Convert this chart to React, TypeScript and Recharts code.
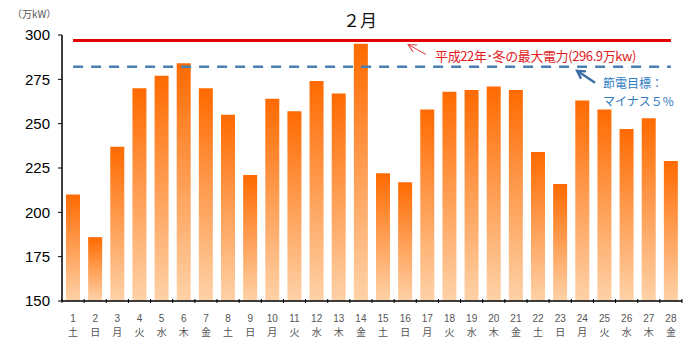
import React from 'react'
import {
  BarChart,
  Bar,
  XAxis,
  YAxis,
  ReferenceLine,
} from 'recharts'

const days = ['1', '2', '3', '4', '5', '6', '7', '8', '9', '10', '11', '12', '13', '14',
  '15', '16', '17', '18', '19', '20', '21', '22', '23', '24', '25', '26', '27', '28']
const weekdays = ['土', '日', '月', '火', '水', '木', '金', '土', '日', '月', '火', '水', '木', '金',
  '土', '日', '月', '火', '水', '木', '金', '土', '日', '月', '火', '水', '木', '金']
const demand = [210, 186, 237, 270, 277, 284, 270, 255, 221, 264, 257, 274, 267, 295,
  222, 217, 258, 268, 269, 271, 269, 234, 216, 263, 258, 247, 253, 229]
const yTicks = [150, 175, 200, 225, 250, 275, 300]
const recordPeak = 296.9
const savingTarget = 282.1

const data = days.map((d, i) => ({ day: d, wd: weekdays[i], value: demand[i] }))

const W = 700
const H = 352
const M = { top: 35, right: 18, left: 0, bottom: 0 }
const Y_W = 62
const STEP = (W - M.left - M.right - Y_W) / days.length
const JP = '"Noto Sans CJK JP", "Noto Sans", sans-serif'
const LATIN = '"Liberation Sans", Arial, sans-serif'

const DayTick = (props: any) => {
  const { x, y, payload, index } = props
  return (
    <g>
      <line x1={x - STEP / 2} x2={x - STEP / 2} y1={y - 2} y2={y + 2} stroke="#000" />
      {index === days.length - 1 && (
        <line x1={x + STEP / 2} x2={x + STEP / 2} y1={y - 2} y2={y + 2} stroke="#000" />
      )}
      <text x={x} y={y + 21} textAnchor="middle" fontSize={10} fill="#555" fontFamily={LATIN}>
        {payload.value}
      </text>
      <text x={x} y={y + 35} textAnchor="middle" fontSize={10} fill="#555" fontFamily={JP}>
        {weekdays[index]}
      </text>
    </g>
  )
}

const RecordLabel = (props: any) => {
  const { x, y } = props.viewBox
  return (
    <g>
      <line x1={x + 353} y1={y + 14} x2={x + 335} y2={y + 4} stroke="#e23a3a" strokeWidth={1} markerEnd="url(#redHead)" />
      <text x={x + 362} y={y + 15} dominantBaseline="central" fontSize={13} fill="#e02020" fontFamily={JP} letterSpacing={-0.4}>
        平成22年･冬の最大電力(296.9万kw)
      </text>
    </g>
  )
}

const TargetLabel = (props: any) => {
  const { x, y } = props.viewBox
  return (
    <g>
      <line x1={x + 522} y1={y + 16} x2={x + 504} y2={y + 4} stroke="#3d6fa8" strokeWidth={2.5} markerEnd="url(#blueHead)" />
      <text x={x + 530} y={y + 16} dominantBaseline="central" fontSize={12} fill="#2f7cc4" fontFamily={JP}>
        節電目標：
      </text>
      <text x={x + 530} y={y + 34} dominantBaseline="central" fontSize={12} fill="#2f7cc4" fontFamily={JP}>
        マイナス５%
      </text>
    </g>
  )
}

const App: React.FC = () => {
  return (
    <div style={{ position: 'absolute', left: 0, top: 0, width: W, height: H, background: '#fff' }}>
      <div style={{ position: 'absolute', left: 310, width: 100, top: 7, textAlign: 'center', fontFamily: JP, fontSize: 17, color: '#111' }}>
        ２月
      </div>
      <div style={{ position: 'absolute', left: 12, top: 6, fontFamily: JP, fontSize: 10, color: '#555' }}>
        （万kW）
      </div>
      <BarChart width={W} height={H} data={data} margin={M} barSize={14}>
        <defs>
          <linearGradient id="barFill" x1="0" y1="0" x2="0" y2="1">
            <stop offset="0%" stopColor="#ff6a00" />
            <stop offset="100%" stopColor="#fed2a8" />
          </linearGradient>
          <marker id="redHead" viewBox="0 0 10 10" refX="9" refY="5" markerWidth="10" markerHeight="10" orient="auto" markerUnits="userSpaceOnUse">
            <path d="M1 1 L9 5 L1 9" fill="none" stroke="#e23a3a" strokeWidth={1} />
          </marker>
          <marker id="blueHead" viewBox="0 0 10 10" refX="8" refY="5" markerWidth="11" markerHeight="11" orient="auto" markerUnits="userSpaceOnUse">
            <path d="M1 1 L8 5 L1 9" fill="none" stroke="#3d6fa8" strokeWidth={2.2} />
          </marker>
        </defs>
        <XAxis
          dataKey="day"
          height={51}
          interval={0}
          tickLine={false}
          tickSize={0}
          tickMargin={0}
          axisLine={{ stroke: '#000', strokeWidth: 1.5 }}
          tick={<DayTick />}
        />
        <XAxis xAxisId="top" orientation="top" dataKey="day" height={0} tick={false} tickLine={false} axisLine={{ stroke: '#555', strokeWidth: 1.5 }} />
        <YAxis
          width={Y_W}
          domain={[150, 300]}
          ticks={yTicks}
          interval={0}
          allowDataOverflow
          tickSize={4}
          tickMargin={8}
          tick={{ fontSize: 15, fill: '#000', fontFamily: LATIN }}
          tickLine={{ stroke: '#000' }}
          axisLine={{ stroke: '#000', strokeWidth: 1.5 }}
        />
        <YAxis yAxisId="r" orientation="right" width={0} tick={false} tickLine={false} axisLine={{ stroke: '#555', strokeWidth: 1.5 }} />
        <Bar dataKey="value" fill="url(#barFill)" isAnimationActive={false} />
        <ReferenceLine
          segment={[{ x: days[0], y: recordPeak }, { x: days[days.length - 1], y: recordPeak }]}
          stroke="#e00000"
          strokeWidth={3}
          label={RecordLabel}
        />
        <ReferenceLine
          segment={[{ x: days[0], y: savingTarget }, { x: days[days.length - 1], y: savingTarget }]}
          stroke="#4a7fb0"
          strokeWidth={2.5}
          strokeDasharray="10 8"
          label={TargetLabel}
        />
      </BarChart>
    </div>
  )
}

export default App
